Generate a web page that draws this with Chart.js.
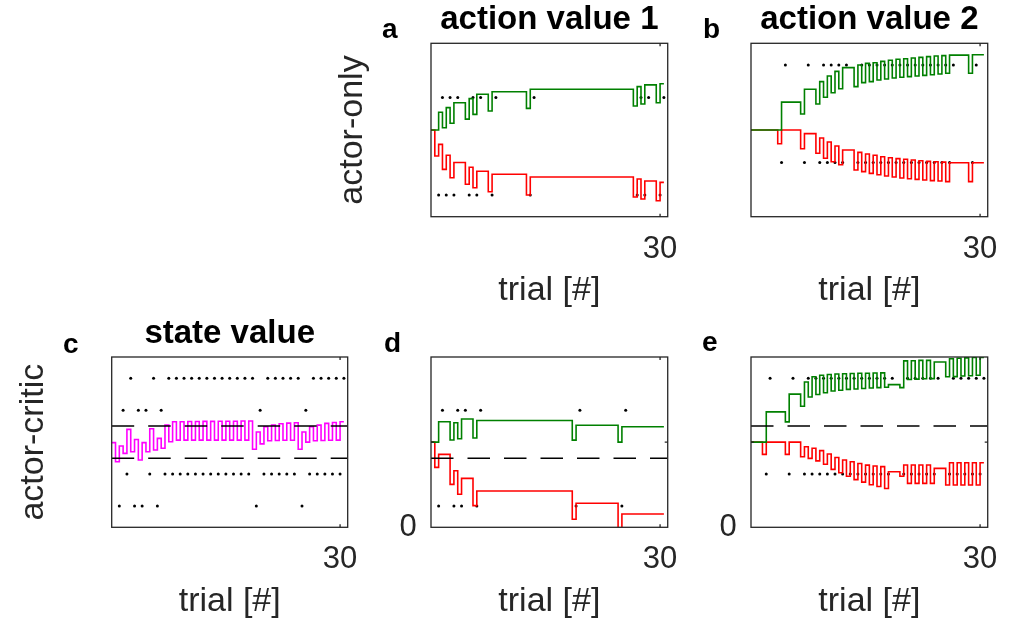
<!DOCTYPE html>
<html>
<head>
<meta charset="utf-8">
<title>actor-only vs actor-critic</title>
<script src="https://cdn.jsdelivr.net/npm/chart.js@4.4.1/dist/chart.umd.min.js"></script>
<style>
  body { margin: 0; background: #fff; }
  #fig { position: relative; width: 1017px; height: 619px; overflow: hidden; background: #fff; }
  #fig canvas { position: absolute; }
  .letter { position: absolute; font: bold 28px 'Liberation Sans', Arial, sans-serif; line-height: 28px; color: #000; }
</style>
</head>
<body>
<div id="fig">
  <canvas id="panelA"></canvas>
  <canvas id="panelB"></canvas>
  <canvas id="panelC"></canvas>
  <canvas id="panelD"></canvas>
  <canvas id="panelE"></canvas>
  <div class="letter" style="left:382px; top:15px">a</div>
  <div class="letter" style="left:703px; top:15px">b</div>
  <div class="letter" style="left:63px; top:330px">c</div>
  <div class="letter" style="left:384px; top:329px">d</div>
  <div class="letter" style="left:702px; top:328px">e</div>
</div>
<script>
// trials on which each action was chosen
const aoAction1 = [1, 2, 3, 5, 6, 8, 13, 27, 28, 30];
const aoAction2 = [4, 7, 9, 10, 11, 12, 14, 15, 16, 17, 18, 19, 20, 21, 22, 23, 24, 25, 26, 29];
const acAction1 = [1, 3, 4, 6, 19, 25];
const acAction2 = [2, 5, 7, 8, 9, 10, 11, 12, 13, 14, 15, 16, 17, 18, 20, 21, 22, 23, 24, 26, 27, 28, 29, 30];

// marker levels (at trial, at trial + 0.5)
const action1Levels = [0.125, 0.6875];
const action2Levels = [0.3125, 0.875];
const refLevels = [0.405, 0.595];

const xTicks = [30];

// values on half-trial steps: index i covers [i/2, i/2 + 0.5]
const aGreen = [0.5, 0.5, 0.602, 0.513, 0.629, 0.539, 0.657, 0.657, 0.657, 0.563,
  0.681, 0.590, 0.706, 0.706, 0.706, 0.610, 0.721, 0.721, 0.721, 0.721,
  0.721, 0.721, 0.721, 0.721, 0.721, 0.625, 0.735, 0.735, 0.735, 0.735,
  0.735, 0.735, 0.735, 0.735, 0.735, 0.735, 0.735, 0.735, 0.735, 0.735,
  0.735, 0.735, 0.735, 0.735, 0.735, 0.735, 0.735, 0.735, 0.735, 0.735,
  0.735, 0.735, 0.735, 0.638, 0.750, 0.650, 0.760, 0.760, 0.760, 0.657,
  0.767];
const aRed = [0.5, 0.350, 0.417, 0.273, 0.354, 0.225, 0.313, 0.313, 0.313, 0.187,
  0.285, 0.167, 0.262, 0.262, 0.262, 0.144, 0.245, 0.245, 0.245, 0.245,
  0.245, 0.245, 0.245, 0.245, 0.245, 0.125, 0.229, 0.229, 0.229, 0.229,
  0.229, 0.229, 0.229, 0.229, 0.229, 0.229, 0.229, 0.229, 0.229, 0.229,
  0.229, 0.229, 0.229, 0.229, 0.229, 0.229, 0.229, 0.229, 0.229, 0.229,
  0.229, 0.229, 0.229, 0.114, 0.217, 0.102, 0.206, 0.206, 0.206, 0.092,
  0.198];
const bGreen = [0.5, 0.5, 0.5, 0.5, 0.5, 0.5, 0.5, 0.5, 0.661, 0.661,
  0.661, 0.661, 0.661, 0.592, 0.735, 0.735, 0.735, 0.650, 0.779, 0.689,
  0.811, 0.715, 0.838, 0.738, 0.860, 0.860, 0.860, 0.750, 0.875, 0.773,
  0.884, 0.779, 0.888, 0.788, 0.896, 0.794, 0.902, 0.800, 0.908, 0.804,
  0.911, 0.808, 0.915, 0.811, 0.919, 0.815, 0.923, 0.819, 0.927, 0.823,
  0.929, 0.827, 0.932, 0.932, 0.932, 0.932, 0.932, 0.827, 0.934, 0.934,
  0.934];
const bRed = [0.5, 0.5, 0.5, 0.5, 0.5, 0.5, 0.5, 0.421, 0.5, 0.5,
  0.5, 0.5, 0.5, 0.392, 0.479, 0.479, 0.479, 0.366, 0.454, 0.337,
  0.431, 0.317, 0.408, 0.300, 0.385, 0.385, 0.385, 0.269, 0.371, 0.260,
  0.362, 0.250, 0.354, 0.242, 0.346, 0.235, 0.340, 0.229, 0.335, 0.223,
  0.331, 0.219, 0.327, 0.215, 0.323, 0.212, 0.319, 0.208, 0.317, 0.206,
  0.315, 0.202, 0.311, 0.311, 0.311, 0.311, 0.311, 0.202, 0.311, 0.311,
  0.311];
const cState = [0.497, 0.385, 0.477, 0.434, 0.575, 0.444, 0.516, 0.395, 0.497, 0.444,
  0.579, 0.454, 0.522, 0.464, 0.600, 0.502, 0.620, 0.512, 0.620, 0.512,
  0.621, 0.512, 0.621, 0.512, 0.622, 0.512, 0.622, 0.512, 0.623, 0.512,
  0.623, 0.512, 0.623, 0.512, 0.624, 0.512, 0.624, 0.458, 0.560, 0.490,
  0.590, 0.508, 0.600, 0.510, 0.608, 0.511, 0.612, 0.511, 0.614, 0.458,
  0.560, 0.500, 0.590, 0.508, 0.600, 0.510, 0.610, 0.511, 0.615, 0.512,
  0.620];
const dGreen = [0.5, 0.5, 0.62, 0.62, 0.62, 0.513, 0.614, 0.52, 0.636, 0.636,
  0.636, 0.524, 0.627, 0.627, 0.627, 0.627, 0.627, 0.627, 0.627, 0.627,
  0.627, 0.627, 0.627, 0.627, 0.627, 0.627, 0.627, 0.627, 0.627, 0.627,
  0.627, 0.627, 0.627, 0.627, 0.627, 0.627, 0.627, 0.512, 0.599, 0.599,
  0.599, 0.599, 0.599, 0.599, 0.599, 0.599, 0.599, 0.599, 0.599, 0.5,
  0.59, 0.59, 0.59, 0.59, 0.59, 0.59, 0.59, 0.59, 0.59, 0.59,
  0.59];
const dRed = [0.5, 0.352, 0.428, 0.428, 0.428, 0.252, 0.332, 0.194, 0.287, 0.287,
  0.287, 0.127, 0.213, 0.213, 0.213, 0.213, 0.213, 0.213, 0.213, 0.213,
  0.213, 0.213, 0.213, 0.213, 0.213, 0.213, 0.213, 0.213, 0.213, 0.213,
  0.213, 0.213, 0.213, 0.213, 0.213, 0.213, 0.213, 0.047, 0.141, 0.141,
  0.141, 0.141, 0.141, 0.141, 0.141, 0.141, 0.141, 0.141, 0.141, -0.02,
  0.078, 0.078, 0.078, 0.078, 0.078, 0.078, 0.078, 0.078, 0.078, 0.078,
  0.078];
const eGreen = [0.5, 0.5, 0.5, 0.5, 0.678, 0.678, 0.678, 0.678, 0.678, 0.619,
  0.782, 0.782, 0.782, 0.711, 0.853, 0.765, 0.884, 0.780, 0.893, 0.790,
  0.897, 0.800, 0.900, 0.805, 0.902, 0.810, 0.903, 0.812, 0.905, 0.815,
  0.905, 0.818, 0.906, 0.820, 0.907, 0.822, 0.838, 0.838, 0.838, 0.820,
  0.977, 0.868, 0.978, 0.870, 0.980, 0.872, 0.980, 0.873, 0.971, 0.971,
  0.971, 0.884, 0.990, 0.885, 0.993, 0.888, 0.995, 0.890, 0.997, 0.893,
  0.997];
const eRed = [0.5, 0.5, 0.5, 0.428, 0.5, 0.5, 0.5, 0.5, 0.5, 0.428,
  0.5, 0.5, 0.5, 0.414, 0.473, 0.405, 0.464, 0.390, 0.450, 0.370,
  0.430, 0.340, 0.410, 0.320, 0.395, 0.300, 0.385, 0.280, 0.375, 0.265,
  0.365, 0.250, 0.360, 0.240, 0.356, 0.228, 0.326, 0.326, 0.326, 0.300,
  0.366, 0.258, 0.366, 0.258, 0.366, 0.258, 0.366, 0.258, 0.346, 0.346,
  0.346, 0.248, 0.379, 0.248, 0.379, 0.248, 0.379, 0.248, 0.379, 0.248,
  0.379];

const GREEN = '#008000';
const RED = '#ff0000';
const MAGENTA = '#ff00ff';

Chart.defaults.font.family = "'Liberation Sans', Arial, sans-serif";
Chart.defaults.color = '#262626';

function toSteps(values) {
  const pts = values.map((v, i) => ({x: i * 0.5, y: v}));
  pts.push({x: values.length * 0.5, y: values[values.length - 1]});
  return pts;
}

function markers(trials, levels) {
  return [
    trials.map(t => ({x: t, y: levels[0]})),
    trials.map(t => ({x: t + 0.5, y: levels[1]}))
  ];
}

// box around the axes plus small inward tick marks
const panelBox = {
  id: 'panelBox',
  afterDatasetsDraw(chart, args, opts) {
    const {ctx, chartArea: a, scales: {x, y}} = chart;
    ctx.save();
    ctx.strokeStyle = '#262626';
    ctx.lineWidth = 1.3;
    ctx.strokeRect(a.left, a.top, a.right - a.left, a.bottom - a.top);
    ctx.beginPath();
    (opts.xMarks || []).forEach(v => {
      const px = x.getPixelForValue(v);
      ctx.moveTo(px, a.bottom); ctx.lineTo(px, a.bottom - 3);
      ctx.moveTo(px, a.top); ctx.lineTo(px, a.top + 3);
    });
    (opts.yMarks || []).forEach(v => {
      const py = y.getPixelForValue(v);
      ctx.moveTo(a.left, py); ctx.lineTo(a.left + 3, py);
      ctx.moveTo(a.right, py); ctx.lineTo(a.right - 3, py);
    });
    ctx.stroke();
    ctx.restore();
  }
};

function buildPanel(id, g, lines, dots, dashes, opts) {
  const canvas = document.getElementById(id);
  canvas.width = g.w;
  canvas.height = g.h;
  canvas.style.left = g.x + 'px';
  canvas.style.top = g.y + 'px';

  const datasets = [];
  dashes.forEach(level => datasets.push({
    data: [{x: 0, y: level}, {x: 31, y: level}],
    borderColor: '#000', borderWidth: 1.5, borderDash: [22.5, 14], pointRadius: 0
  }));
  lines.forEach(l => datasets.push({
    data: toSteps(l.values), borderColor: l.color, borderWidth: 1.6,
    stepped: 'before', pointRadius: 0, fill: false
  }));
  dots.forEach(d => datasets.push({
    data: d, showLine: false, pointRadius: 1.5,
    pointBackgroundColor: '#000', pointBorderWidth: 0
  }));

  return new Chart(canvas, {
    type: 'line',
    data: { datasets: datasets },
    options: {
      responsive: false,
      animation: false,
      events: [],
      layout: { padding: { left: 0, top: 0, bottom: 0, right: g.w - g.yw - g.cw } },
      plugins: {
        legend: { display: false },
        tooltip: { enabled: false },
        title: {
          display: true,
          text: opts.title || '',
          fullSize: false,
          color: '#000',
          font: { size: 33, weight: 'bold', lineHeight: 1 },
          padding: { top: g.tpTop, bottom: g.tpBottom }
        },
        panelBox: { xMarks: xTicks, yMarks: opts.yMarks || [] }
      },
      scales: {
        x: {
          type: 'linear', min: 0, max: 31,
          grid: { display: false, drawTicks: false },
          border: { display: false },
          afterBuildTicks: s => { s.ticks = xTicks.map(v => ({value: v})); },
          afterFit: s => { s.height = g.xh; },
          ticks: { maxRotation: 0, padding: 16.8, font: { size: 31, lineHeight: 1 } },
          title: { display: true, text: 'trial [#]', font: { size: 34, lineHeight: 1 }, padding: 0 }
        },
        y: {
          type: 'linear', min: 0, max: 1,
          grid: { display: false, drawTicks: false },
          border: { display: false },
          afterBuildTicks: s => { s.ticks = (opts.yTicks || []).map(v => ({value: v})); },
          afterFit: s => { s.width = g.yw; },
          ticks: { padding: 14.3, font: { size: 31, lineHeight: 1 },
                   callback: v => (v === 0 ? '0' : '') },
          title: {
            display: !!opts.yTitle, text: opts.yTitle || '',
            font: { size: 34, lineHeight: 1 }, padding: { top: opts.yTitlePad || 0 }
          }
        }
      }
    },
    plugins: [panelBox]
  });
}

const row1 = { y: 0, h: 308, xh: 91.3, tpTop: 3.8, tpBottom: 6.5 };
const row2 = { y: 314, h: 305, xh: 91.7, tpTop: 3.5, tpBottom: 6.5 };

buildPanel('panelA', Object.assign({x: 330, w: 365, yw: 101, cw: 242}, row1),
  [{values: aGreen, color: GREEN}, {values: aRed, color: RED}],
  markers(aoAction1, action1Levels), [],
  { title: 'action value 1', yTitle: 'actor-only', yTitlePad: 6 });

buildPanel('panelB', Object.assign({x: 691, w: 324, yw: 60, cw: 242}, row1),
  [{values: bGreen, color: GREEN}, {values: bRed, color: RED}],
  markers(aoAction2, action2Levels), [],
  { title: 'action value 2' });

buildPanel('panelC', Object.assign({x: 0, w: 375, yw: 111.7, cw: 241.3}, row2),
  [{values: cState, color: MAGENTA}],
  markers(acAction1, action1Levels).concat(markers(acAction2, action2Levels)), refLevels,
  { title: 'state value', yTitle: 'actor-critic', yTitlePad: 16.6 });

buildPanel('panelD', Object.assign({x: 371, w: 324, yw: 60, cw: 242}, row2),
  [{values: dGreen, color: GREEN}, {values: dRed, color: RED}],
  markers(acAction1, action1Levels), [refLevels[0]],
  { yTicks: [0], yMarks: [0.5] });

buildPanel('panelE', Object.assign({x: 691, w: 324, yw: 60, cw: 242}, row2),
  [{values: eGreen, color: GREEN}, {values: eRed, color: RED}],
  markers(acAction2, action2Levels), [refLevels[1]],
  { yTicks: [0], yMarks: [0.5] });
</script>
</body>
</html>
